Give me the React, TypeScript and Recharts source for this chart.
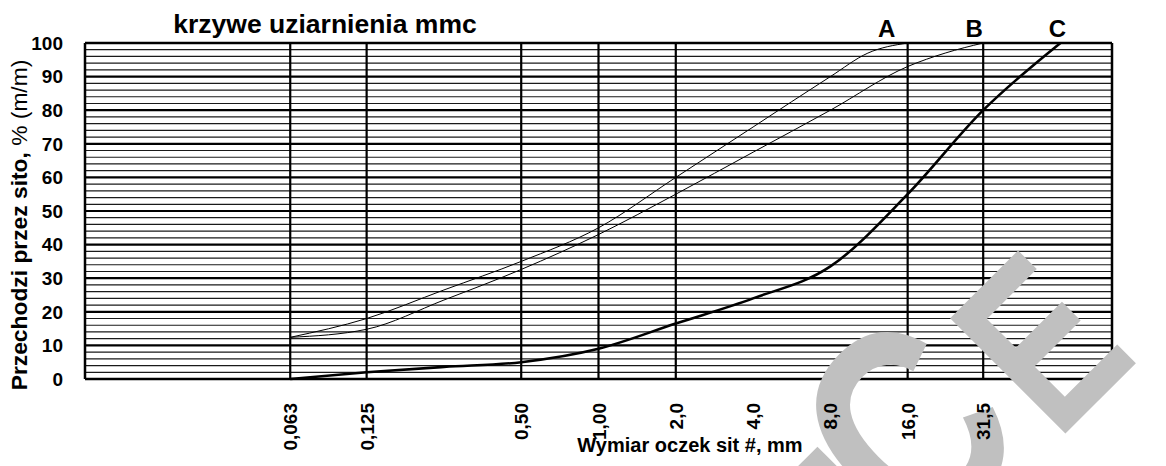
import { LineChart, Line, XAxis, YAxis, ReferenceLine, LabelList } from "recharts";

const FONT = "'Liberation Sans', Arial, Helvetica, sans-serif";

// sieve sizes (mm) shown on the x axis, and where the vertical rules go
const sieveSizes = [0.063, 0.125, 0.5, 1, 2, 4, 8, 16, 31.5];
const sieveLabels = ["0,063", "0,125", "0,50", "1,00", "2,0", "4,0", "8,0", "16,0", "31,5"];
const gridSizes = [0.063, 0.125, 0.5, 1, 2, 16, 31.5];

const yTicks = [0, 10, 20, 30, 40, 50, 60, 70, 80, 90, 100];
const majorY = [10, 20, 30, 40, 50, 60, 70, 80, 90];
const minorY = [
  2, 4, 6, 8, 12, 14, 16, 18, 22, 24, 26, 28, 32, 34, 36, 38, 42, 44, 46, 48,
  52, 54, 56, 58, 62, 64, 66, 68, 72, 74, 76, 78, 82, 84, 86, 88, 92, 94, 96, 98,
];

// grading curves: passing % vs sieve size
const sizesA = [0.063, 0.125, 0.25, 0.5, 1, 2, 4, 8, 11.2, 16];
const passA = [12.4, 18, 26.5, 35, 45, 60, 75, 90, 97, 100];
const sizesB = [0.063, 0.125, 0.25, 0.5, 1, 2, 4, 8, 16, 22.4, 31.5];
const passB = [12.4, 14.8, 23.5, 32.6, 43, 55, 67.5, 80, 93, 97, 100];
const sizesC = [0.063, 0.125, 0.25, 0.5, 1, 2, 4, 8, 16, 31.5, 63];
const passC = [0, 2, 3.6, 5, 9, 16.5, 24, 33.5, 55, 80, 100];

const toRows = (sizes: number[], pass: number[]) =>
  sizes.map((size, i) => ({ size, pass: pass[i] }));

const dataA = toRows(sizesA, passA);
const dataB = toRows(sizesB, passB);
const dataC = toRows(sizesC, passC);

const W = 1166;
const H = 466;
const MARGIN = { top: 43, right: 0, bottom: 0, left: 0 };
const tickFont = { fontFamily: FONT, fontWeight: "bold", fontSize: 19, fill: "#000" };

const labelFor = (name: string, last: number, dx: number) => (props: any) => {
  if (props.index !== last) return null;
  return (
    <text
      x={props.x + dx}
      y={37}
      textAnchor="middle"
      fontFamily={FONT}
      fontWeight="bold"
      fontSize={24}
      fill="#000"
    >
      {name}
    </text>
  );
};

function XTick(props: any) {
  const { x, payload } = props;
  const i = sieveSizes.indexOf(payload.value);
  const tx = x + 7;
  const ty = 403;
  return (
    <text
      x={tx}
      y={ty}
      transform={`rotate(-90 ${tx} ${ty})`}
      textAnchor="end"
      fontFamily={FONT}
      fontWeight="bold"
      fontSize={19}
      fill="#000"
    >
      {sieveLabels[i]}
    </text>
  );
}

// axes; the base chart keeps their space, the top chart draws their text
function axes(showTicks: boolean) {
  return [
    <XAxis
      key="x"
      type="number"
      dataKey="size"
      scale="log"
      domain={[0.01, 100]}
      allowDataOverflow
      ticks={sieveSizes}
      interval={0}
      height={87}
      axisLine={false}
      tickLine={false}
      tick={showTicks ? <XTick /> : false}
    />,
    <YAxis
      key="yl"
      yAxisId="left"
      domain={[0, 100]}
      ticks={yTicks}
      interval={0}
      width={85}
      axisLine={false}
      tickLine={false}
      tickSize={0}
      tickMargin={22}
      tick={showTicks ? tickFont : false}
    />,
    <YAxis
      key="yr"
      yAxisId="right"
      orientation="right"
      domain={[0, 100]}
      ticks={yTicks}
      interval={0}
      width={54}
      axisLine={false}
      tickLine={showTicks ? { stroke: "#000", strokeWidth: 2 } : false}
      tickSize={7}
      tickMargin={10}
      tick={showTicks ? tickFont : false}
    />,
  ];
}

export default function App() {
  return (
    <div style={{ position: "absolute", left: 0, top: 0, width: W, height: H, background: "#fff" }}>
      <LineChart width={W} height={H} margin={MARGIN}>
        {axes(false)}
        {minorY.map((v) => (
          <ReferenceLine key={"mi" + v} yAxisId="left" y={v} stroke="#1a1a1a" strokeWidth={1.2} />
        ))}
        {majorY.map((v) => (
          <ReferenceLine key={"ma" + v} yAxisId="left" y={v} stroke="#000" strokeWidth={2.2} />
        ))}
        {gridSizes.map((s) => (
          <ReferenceLine key={"v" + s} yAxisId="left" x={s} stroke="#000" strokeWidth={2.2} />
        ))}
        <ReferenceLine yAxisId="left" y={0} stroke="#000" strokeWidth={2.5} />
        <ReferenceLine yAxisId="left" y={100} stroke="#000" strokeWidth={2.5} />
        <ReferenceLine yAxisId="left" x={0.01} stroke="#000" strokeWidth={2.5} />
        <ReferenceLine yAxisId="left" x={100} stroke="#000" strokeWidth={2.5} />
        <Line
          yAxisId="left"
          data={dataA}
          dataKey="pass"
          type="monotone"
          stroke="#000"
          strokeWidth={1}
          dot={false}
          isAnimationActive={false}
        >
          <LabelList dataKey="pass" content={labelFor("A", dataA.length - 1, -21)} />
        </Line>
        <Line
          yAxisId="left"
          data={dataB}
          dataKey="pass"
          type="monotone"
          stroke="#000"
          strokeWidth={1}
          dot={false}
          isAnimationActive={false}
        >
          <LabelList dataKey="pass" content={labelFor("B", dataB.length - 1, -9)} />
        </Line>
        <Line
          yAxisId="left"
          data={dataC}
          dataKey="pass"
          type="monotone"
          stroke="#000"
          strokeWidth={2.6}
          dot={false}
          isAnimationActive={false}
        >
          <LabelList dataKey="pass" content={labelFor("C", dataC.length - 1, -3)} />
        </Line>
      </LineChart>

      {/* grey watermark: covers the grid, lies under the axis text */}
      <svg width={W} height={H} style={{ position: "absolute", left: 0, top: 0, pointerEvents: "none" }}>
        <g fontFamily={FONT} fontWeight="bold" fill="#c0c0c0">
          <text x={0} y={0} fontSize={237} transform="translate(1057 442) rotate(-45) scale(0.75 1)">
            E
          </text>
          <g fontSize={285} transform="translate(1057 442) rotate(-45) scale(0.8 1)">
            <text x={-18} y={-17} textAnchor="end">C</text>
            <text x={-276} y={30}>I</text>
          </g>
        </g>
      </svg>

      <div style={{ position: "absolute", left: 0, top: 0 }}>
        <LineChart width={W} height={H} margin={MARGIN}>
          {axes(true)}
          <Line
            yAxisId="left"
            data={dataC}
            dataKey="pass"
            stroke="none"
            dot={false}
            legendType="none"
            isAnimationActive={false}
          />
        </LineChart>
      </div>

      <svg width={W} height={H} style={{ position: "absolute", left: 0, top: 0, pointerEvents: "none" }}>
        <text x={325} y={33} textAnchor="middle" fontFamily={FONT} fontWeight="bold" fontSize={26.5}>
          krzywe uziarnienia mmc
        </text>
        <text
          x={27}
          y={225}
          transform="rotate(-90 27 225)"
          textAnchor="middle"
          fontFamily={FONT}
          fontSize={22.8}
        >
          <tspan fontWeight="bold">Przechodzi przez sito, </tspan>
          <tspan>% (m/m)</tspan>
        </text>
        <text x={690} y={452} textAnchor="middle" fontFamily={FONT} fontWeight="bold" fontSize={20}>
          Wymiar oczek sit #, mm
        </text>
      </svg>
    </div>
  );
}
